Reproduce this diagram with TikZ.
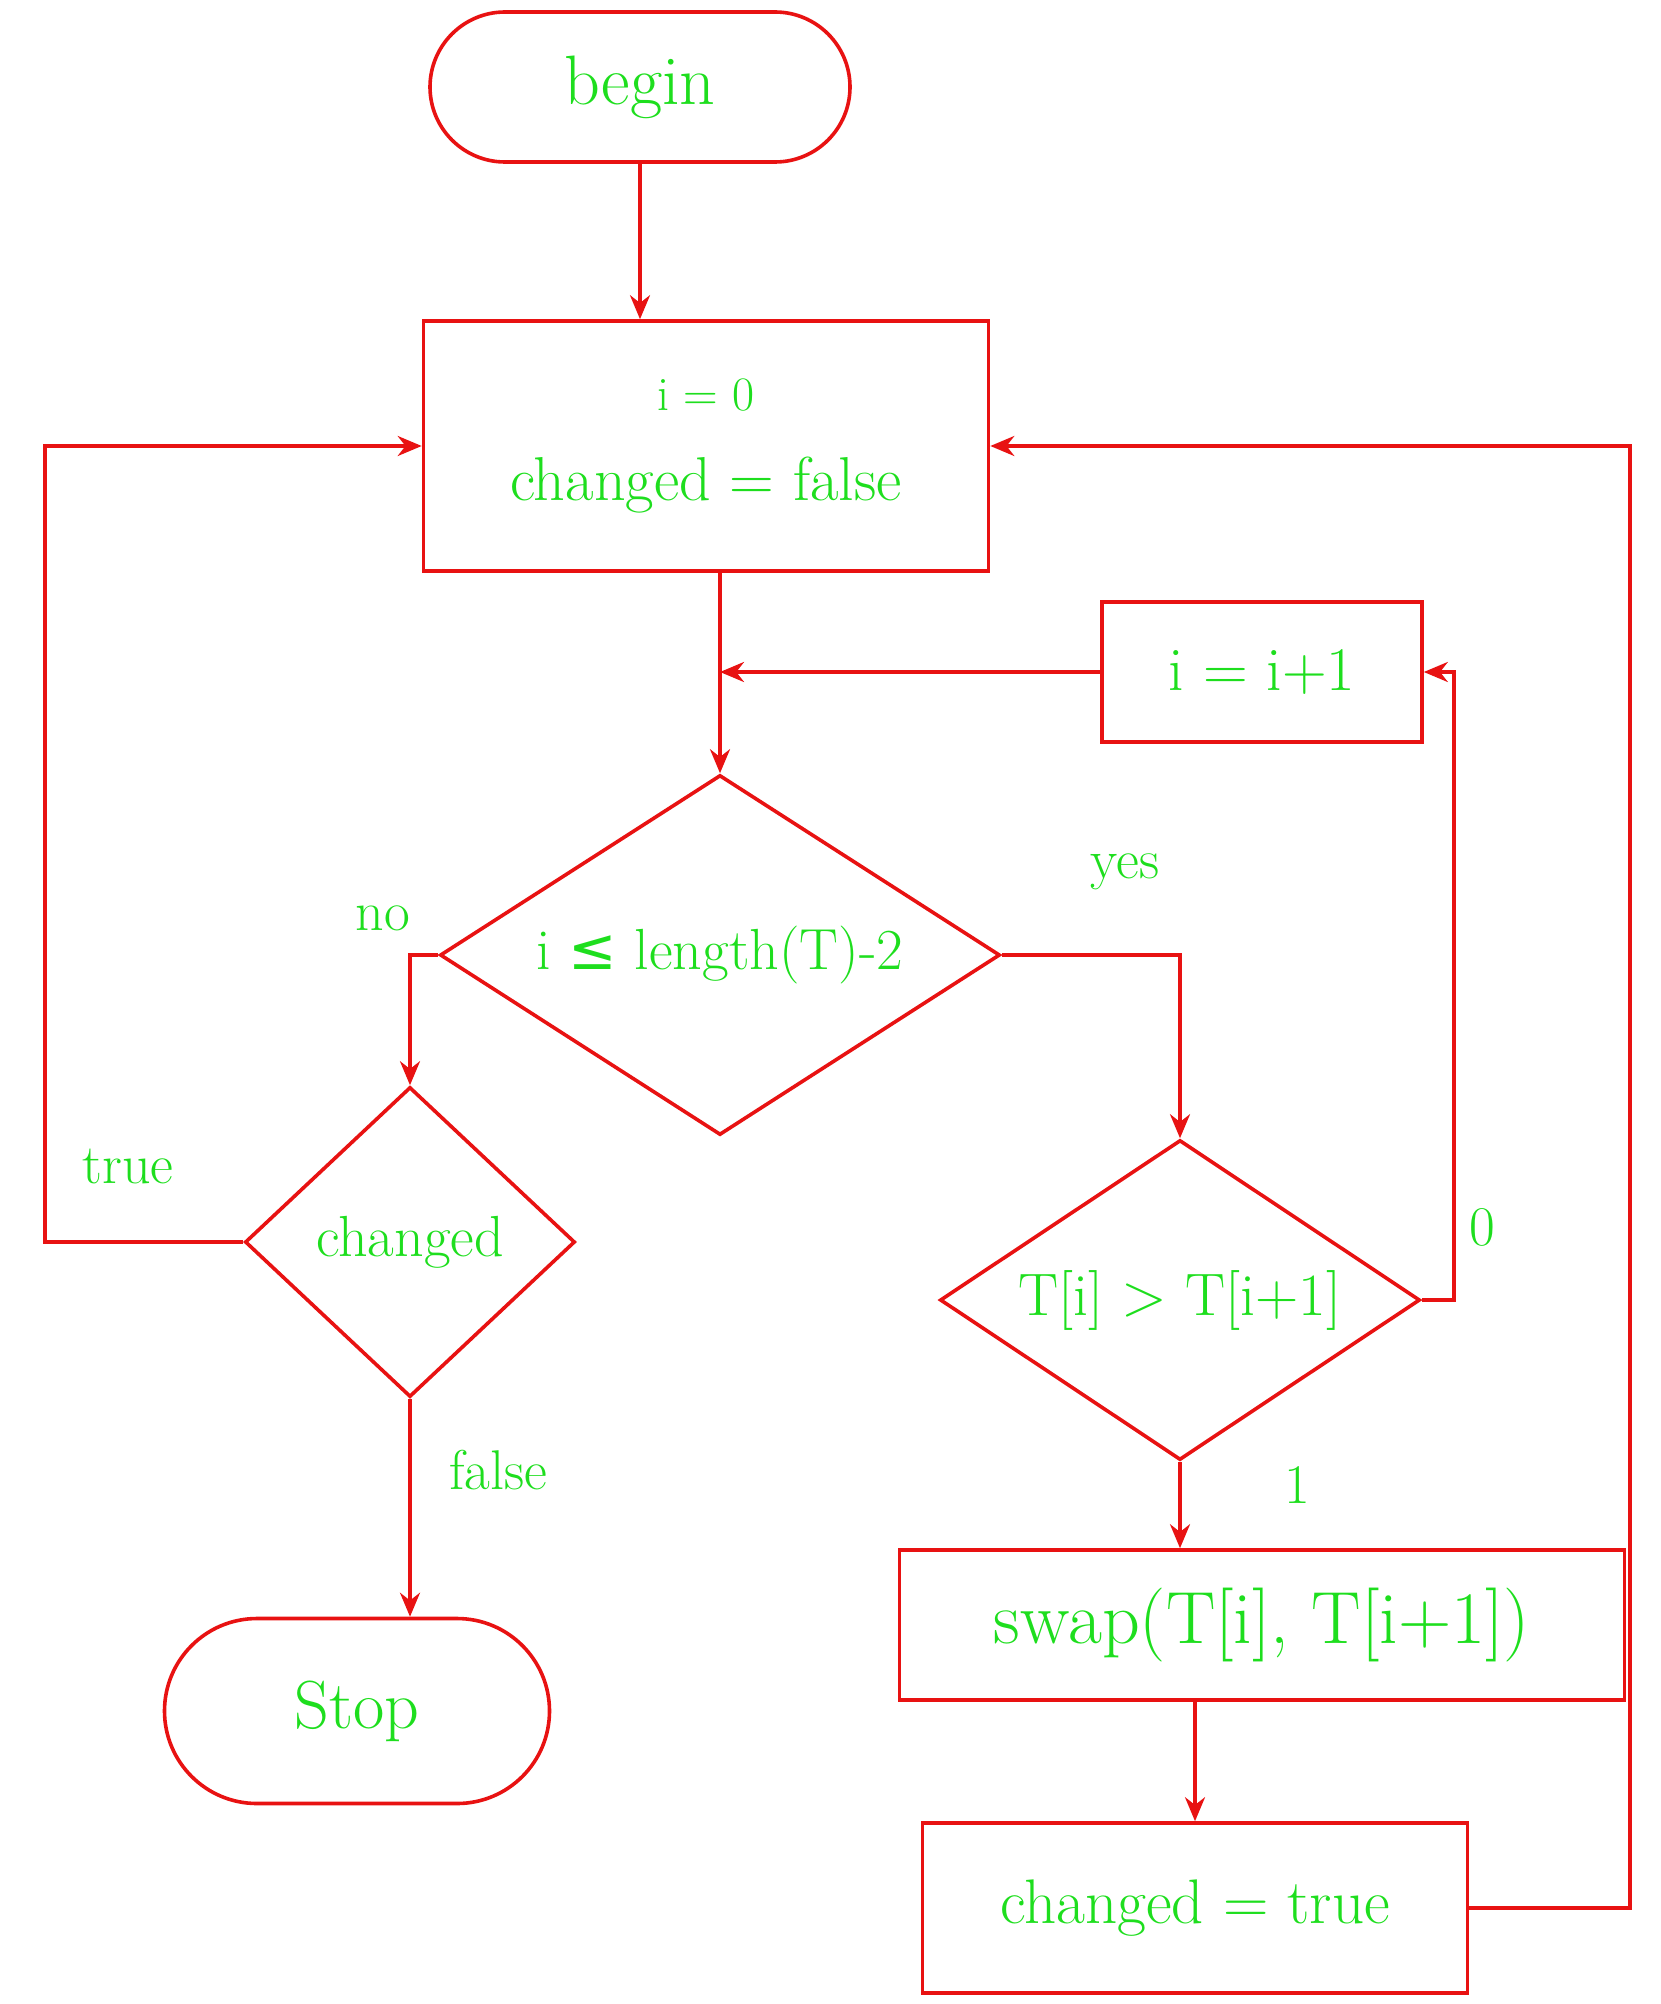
\documentclass[tikz,border=0pt]{standalone}
\usepackage{fontspec}
\newfontfamily\symf{DejaVu Sans}
\usetikzlibrary{shapes.geometric,shapes.misc,arrows.meta,calc}
\definecolor{inkred}{RGB}{232,18,18}
\definecolor{inkgreen}{RGB}{30,222,30}
\begin{document}
\begin{tikzpicture}[x=1pt,y=-1pt,
  shapebase/.style={draw=inkred,line width=3.6pt,text=inkgreen,inner sep=0pt,font=\fontsize{62}{72}\selectfont},
  terminal/.style={shapebase,rounded rectangle},
  procbox/.style={shapebase,rectangle},
  decision/.style={shapebase,diamond},
  flow/.style={draw=inkred,line width=3.6pt,-{Stealth[length=24pt,width=20pt]}},
  lbl/.style={text=inkgreen,font=\fontsize{56}{64}\selectfont,inner sep=0pt}]
\useasboundingbox (0,0) rectangle (1660,2004);

% nodes
\node[terminal,minimum width=420pt,minimum height=150pt,font=\fontsize{70}{78}\selectfont] (begin) at (640,87) {begin};
\node[procbox,minimum width=565pt,minimum height=250pt,align=center] (init) at (706,446)
  {{\fontsize{48}{56}\selectfont i = 0}\\[18pt]changed = false};
\node[procbox,minimum width=320pt,minimum height=140pt,font=\fontsize{62}{70}\selectfont] (incr) at (1262,672) {i = i+1};
\node[decision,minimum width=560pt,minimum height=360pt,aspect=1.55,font=\fontsize{58}{66}\selectfont] (d1) at (720,955)
  {i {\symf ≤} length(T)-2};
\node[decision,minimum width=330pt,minimum height=310pt,aspect=1.06,font=\fontsize{58}{66}\selectfont] (d2) at (410,1242) {changed};
\node[terminal,minimum width=385pt,minimum height=185pt,font=\fontsize{68}{76}\selectfont] (stop) at (357,1711) {Stop};
\node[decision,minimum width=480pt,minimum height=320pt,aspect=1.5,font=\fontsize{60}{68}\selectfont] (d3) at (1180,1300)
  {T[i] > T[i+1]};
\node[procbox,minimum width=725pt,minimum height=150pt,font=\fontsize{74}{82}\selectfont] (swap) at (1262,1625)
  {swap(T[i], T[i+1])};
\node[procbox,minimum width=545pt,minimum height=170pt,font=\fontsize{63}{72}\selectfont] (ctrue) at (1195,1908)
  {changed = true};

% helper coordinates for loop-back lines
\coordinate (lt) at (45,0);
\coordinate (r0) at (1454,0);
\coordinate (r1) at (1630,0);

% connectors
\draw[flow] (begin.south) -- (begin.south |- init.north);
\draw[flow] (d1.north |- init.south) -- (d1.north);
\coordinate (join) at (d1.north |- incr.west);
\draw[flow] (incr.west) -- (join);
\draw[flow] (d1.west) -- (d2.north |- d1.west) -- (d2.north);
\draw[flow] (d1.east) -- (d3.north |- d1.east) -- (d3.north);
\draw[flow] (d2.west) -- (d2.west -| lt) -- (init.west -| lt) -- (init.west);
\draw[flow] (d2.south) -- (d2.south |- stop.north);
\draw[flow] (d3.east) -- (d3.east -| r0) -- (incr.east -| r0) -- (incr.east);
\draw[flow] (d3.south) -- (d3.south |- swap.north);
\draw[flow] (ctrue.north |- swap.south) -- (ctrue.north);
\draw[flow] (ctrue.east) -- (ctrue.east -| r1) -- (init.east -| r1) -- (init.east);

% labels
\node[lbl] (lno) at (383,918) {no};
\node[lbl] (lyes) at (1125,872) {yes};
\node[lbl] (ltrue) at (128,1166) {true};
\node[lbl] (lfalse) at (498,1470) {false};
\node[lbl] (lzero) at (1482,1227) {0};
\node[lbl] (lone) at (1297,1485) {1};
\end{tikzpicture}
\end{document}
